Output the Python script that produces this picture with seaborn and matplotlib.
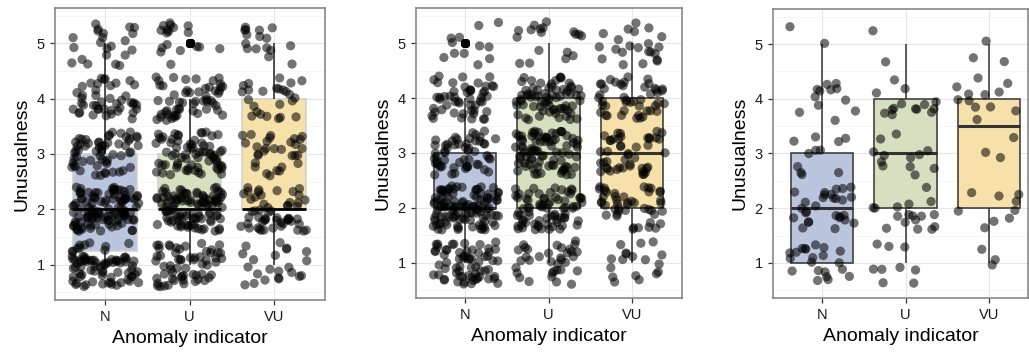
import numpy as np
import pandas as pd
import seaborn as sns
import matplotlib.pyplot as plt
from matplotlib.ticker import MultipleLocator

# answers per rating (1..5) for each anomaly indicator, one set per panel
categories = ['N', 'U', 'VU']
ratings = [1, 2, 3, 4, 5]

p1_N = [79, 110, 60, 43, 22]
p1_U = [60, 100, 70, 55, 18]
p1_VU = [22, 54, 30, 25, 16]

p2_N = [65, 110, 55, 50, 12]
p2_U = [35, 75, 80, 70, 18]
p2_VU = [18, 45, 45, 45, 22]

p3_N = [21, 28, 11, 12, 2]
p3_U = [9, 17, 12, 14, 2]
p3_VU = [3, 9, 3, 12, 3]

box_colors = ['#bcc5de', '#d6dfc0', '#f7e1ab']

plt.rcParams['font.family'] = ['Liberation Sans', 'DejaVu Sans']


def make_frame(counts, seed):
    parts = []
    for cat, c in zip(categories, counts):
        parts.append(pd.DataFrame({'indicator': cat, 'score': np.repeat(ratings, c)}))
    df = pd.concat(parts, ignore_index=True)
    # jitter only moves the dots, like geom_jitter
    rng = np.random.default_rng(seed)
    pos = df['indicator'].map({c: i for i, c in enumerate(categories)})
    df['xj'] = pos + rng.uniform(-0.4, 0.4, len(df))
    df['yj'] = df['score'] + rng.uniform(-0.4, 0.4, len(df))
    return df


frames = [make_frame([p1_N, p1_U, p1_VU], 11),
          make_frame([p2_N, p2_U, p2_VU], 22),
          make_frame([p3_N, p3_U, p3_VU], 33)]

W, H = 1029, 354
fig = plt.figure(figsize=(W / 100, H / 100), dpi=100)
# left, right, top, bottom in pixels
boxes_px = [(55, 325, 8, 300), (416, 682, 8, 298), (773, 1028, 9, 298)]
xlims = [(-0.59, 2.6), (-0.59, 2.6), (-0.59, 2.47)]

for k, df in enumerate(frames):
    l, r, t, b = boxes_px[k]
    ax = fig.add_axes([l / W, (H - b) / H, (r - l) / W, (b - t) / H])
    if k == 0:
        edge = '#cfcfcf'
        med = dict(color='black', linewidth=2.0)
        whisk = dict(color='#222222', linewidth=1.1)
    else:
        edge = '#333333'
        med = dict(color='#333333', linewidth=2.2)
        whisk = dict(color='#333333', linewidth=1.1)
    sns.boxplot(data=df, x='indicator', y='score', hue='indicator',
                order=categories, hue_order=categories, palette=box_colors,
                saturation=1, width=0.75, showcaps=False, legend=False,
                linewidth=1.1, boxprops=dict(edgecolor=edge),
                medianprops=med, whiskerprops=whisk,
                flierprops=dict(marker='o', markerfacecolor='black',
                                markeredgecolor='none', markersize=6.5),
                ax=ax)
    sns.scatterplot(x=df['xj'].values, y=df['yj'].values, color='black',
                    alpha=0.55, s=44, edgecolor='none', zorder=3, ax=ax)

    ax.set_xlim(*xlims[k])
    ax.set_ylim(0.36, 5.64)
    ax.set_xticks(range(len(categories)))
    ax.set_xticklabels(categories)
    ax.yaxis.set_major_locator(MultipleLocator(1))
    ax.yaxis.set_minor_locator(MultipleLocator(0.5))
    ax.set_axisbelow(True)
    ax.set_facecolor('white')
    ax.grid(True, which='major', color='#e6e6e6', linewidth=0.8)
    ax.yaxis.grid(True, which='minor', color='#f3f3f3', linewidth=0.5)
    ax.xaxis.grid(True, which='major', color='#e6e6e6', linewidth=0.8)
    for sp in ax.spines.values():
        sp.set_color('#7f7f7f')
        sp.set_linewidth(1.1)
    ax.tick_params(axis='both', which='major', length=3.5, width=0.9,
                   color='#333333', labelsize=10.5, labelcolor='#1a1a1a', pad=4)
    ax.tick_params(axis='y', which='minor', length=0)
    ax.set_xlabel('Anomaly indicator', fontsize=14, labelpad=4)
    ax.set_ylabel('Unusualness', fontsize=14, labelpad=4)

fig.savefig('out.png', dpi=100)
